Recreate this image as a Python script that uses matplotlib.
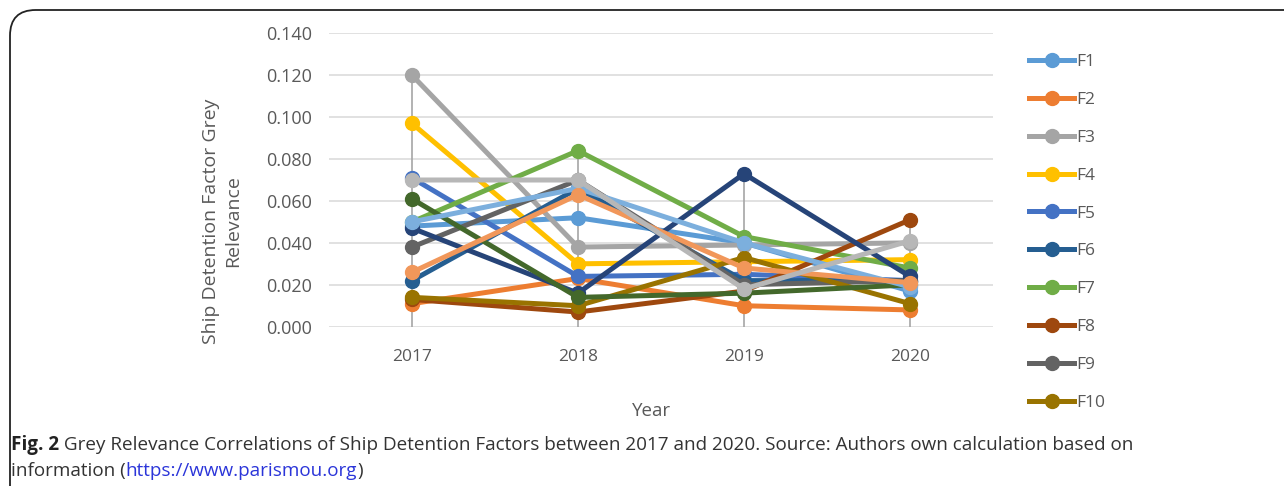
import matplotlib
matplotlib.use("Agg")
import matplotlib.pyplot as plt
from matplotlib.patches import FancyBboxPatch

plt.rcParams.update({"font.family": ["Open Sans", "DejaVu Sans"]})

years = ["2017", "2018", "2019", "2020"]
# grey relevance per factor (F11-F15 are drawn but cut from the legend)
F1 = [0.048, 0.052, 0.040, 0.017]
F2 = [0.011, 0.023, 0.010, 0.008]
F3 = [0.120, 0.038, 0.039, 0.040]
F4 = [0.097, 0.030, 0.031, 0.032]
F5 = [0.071, 0.024, 0.025, 0.022]
F6 = [0.022, 0.066, 0.022, 0.022]
F7 = [0.050, 0.084, 0.043, 0.028]
F8 = [0.013, 0.007, 0.017, 0.051]
F9 = [0.038, 0.070, 0.020, 0.022]
F10 = [0.014, 0.010, 0.033, 0.011]
F11 = [0.047, 0.016, 0.073, 0.024]
F12 = [0.061, 0.014, 0.016, 0.020]
F13 = [0.050, 0.066, 0.040, 0.019]
F14 = [0.026, 0.063, 0.028, 0.021]
F15 = [0.070, 0.070, 0.018, 0.041]
series = [F1, F2, F3, F4, F5, F6, F7, F8, F9, F10, F11, F12, F13, F14, F15]
names = [f"F{i}" for i in range(1, 16)]
colors = ["#5B9BD5", "#ED7D31", "#A5A5A5", "#FFC000", "#4472C4", "#255E91", "#70AD47",
          "#9E480E", "#636363", "#997300", "#264478", "#43682B", "#7CAFDD", "#F1975A", "#B7B7B7"]

TXT, GRID = "#595959", "#D9D9D9"
W, H = 1284, 486
fig = plt.figure(figsize=(W / 100, H / 100), dpi=100)

# rounded frame of the figure box (runs off the right/bottom edge)
frame = FancyBboxPatch((10 / W, -0.2), 1.1, (H - 10) / H + 0.2,
                       boxstyle="round,pad=0,rounding_size=0.02", transform=fig.transFigure,
                       fc="none", ec="#222222", lw=1.3, mutation_aspect=W / H)
fig.patches.append(frame)

ax = fig.add_axes([329 / W, 1 - 326.7 / H, (993 - 329) / W, (326.7 - 33.3) / H])
x = range(len(years))
ax.set_xlim(-0.5, 3.5); ax.set_ylim(0, 0.14)
ax.set_yticks([i * 0.02 for i in range(8)])
ax.yaxis.set_major_formatter(plt.FuncFormatter(lambda v, _: f"{v:.3f}"))
ax.grid(axis="y", color=GRID, lw=1.1)
ax.set_axisbelow(True)
for s in ax.spines.values():
    s.set_visible(False)
ax.tick_params(length=0, labelsize=12.5, colors=TXT, pad=16)
ax.tick_params(axis="y", labelsize=13, pad=12)
ax.set_xticks(list(x)); ax.set_xticklabels(years)

# drop lines from the highest point of each year
tops = [max(s[i] for s in series) for i in x]
ax.vlines(list(x), 0, tops, color="#A6A6A6", lw=1.2, zorder=1)

lines = []
for vals, nm, c in zip(series, names, colors):
    ln, = ax.plot(list(x), vals, color=c, lw=3.6, marker="o", ms=10, label=nm, zorder=3)
    lines.append(ln)

ax.set_ylabel("Ship Detention Factor Grey\nRelevance", fontsize=14, color=TXT, linespacing=1.3)
ax.yaxis.set_label_coords(-0.131, 0.36)
ax.set_xlabel("Year", fontsize=13.5, color=TXT)
ax.xaxis.set_label_coords(0.486, -0.257)

fig.legend(handles=lines[:10], loc="upper left", bbox_to_anchor=(1022 / W, 1 - 47 / H),
           frameon=False, fontsize=12.5, handlelength=2.6, handletextpad=0.15,
           labelspacing=1.25, borderaxespad=0, labelcolor=TXT)

# caption with bold lead-in and link in blue
fig.canvas.draw()
r = fig.canvas.get_renderer()
cy1, cy2 = 1 - 445 / H, 1 - 471 / H
CF = 13.6
t0 = fig.text(11 / W, cy1, "Fig. 2", fontsize=CF, weight="bold", color="#222222", va="center")
x1 = t0.get_window_extent(r).x1 / W
fig.text(x1, cy1, " Grey Relevance Correlations of Ship Detention Factors between 2017 and 2020. "
         "Source: Authors own calculation based on", fontsize=CF, color="#333333", va="center")
t1 = fig.text(11 / W, cy2, "information (", fontsize=CF, color="#333333", va="center")
x2 = t1.get_window_extent(r).x1 / W
t2 = fig.text(x2, cy2, "https://www.parismou.org", fontsize=CF, color="#2B35D9", va="center")
x3 = t2.get_window_extent(r).x1 / W
fig.text(x3, cy2, ")", fontsize=CF, color="#333333", va="center")

fig.savefig("out.png", dpi=100)
